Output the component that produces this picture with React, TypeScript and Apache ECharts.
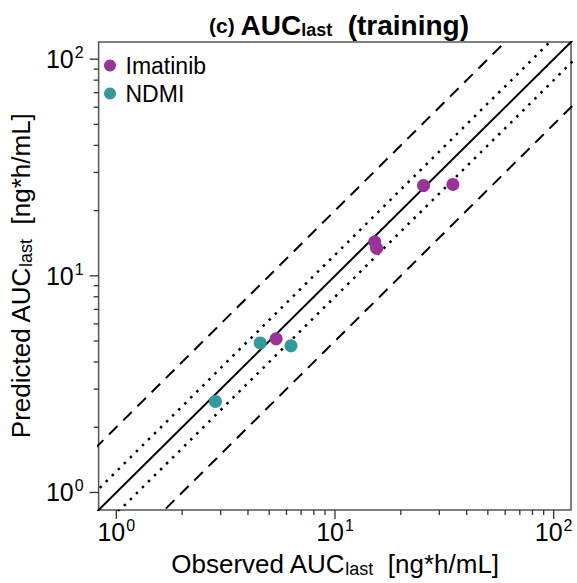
import React, { useEffect, useRef } from 'react';
import * as echarts from 'echarts';

// Axis range (both axes, log10)
const axisMin = 0.83;
const axisMax = 120;

// Observed vs predicted AUC_last
const imatinibObserved = [5.38, 15.2, 15.5, 25.4, 34.6];
const imatinibPredicted = [5.12, 14.35, 13.4, 26.1, 26.4];
const ndmiObserved = [2.84, 4.55, 6.29];
const ndmiPredicted = [2.63, 4.9, 4.75];

// Reference lines (fold ratios)
const identityRatio = [1];
const dottedRatios = [1.25, 0.8];
const dashedRatios = [2, 0.5];

// Tick values
const majorTicks = [1, 10, 100];
const minorTicks = [2, 3, 4, 5, 6, 7, 8, 9, 20, 30, 40, 50, 60, 70, 80, 90];

const FONT = '"Liberation Sans", Arial, sans-serif';

function powerLabel(v: number): string {
  const e = Math.log10(v);
  const r = Math.round(e);
  if (Math.abs(e - r) > 1e-6) return '';
  return `{b|10}{s|${r}}`;
}

const labelRich = {
  b: { fontSize: 25, fontFamily: FONT, color: '#000' },
  s: { fontSize: 16, fontFamily: FONT, color: '#000', padding: [0, 0, 13, 1] },
};

function refLine(ratio: number, type: any, width: number) {
  return {
    type: 'line',
    silent: true,
    symbol: 'none',
    z: 2,
    data: [
      [axisMin / 4, (axisMin / 4) * ratio],
      [axisMax * 4, axisMax * 4 * ratio],
    ],
    lineStyle: { color: '#000', width, type },
  };
}

function tickSeries(values: number[], len: number) {
  return {
    type: 'custom',
    silent: true,
    clip: false,
    z: 5,
    data: values.map((v) => [v, v]),
    renderItem: (params: any, api: any) => {
      const v = api.value(0);
      const cs = params.coordSys;
      const px = api.coord([v, axisMin])[0];
      const py = api.coord([axisMin, v])[1];
      const bottom = cs.y + cs.height;
      const left = cs.x;
      const style = { stroke: '#333', lineWidth: 1.3 };
      return {
        type: 'group',
        children: [
          { type: 'line', shape: { x1: px, y1: bottom, x2: px, y2: bottom + len }, style },
          { type: 'line', shape: { x1: left, y1: py, x2: left - len, y2: py }, style },
        ],
      };
    },
  };
}

export default function App() {
  const ref = useRef<HTMLDivElement>(null);
  useEffect(() => {
    if (!ref.current) return;
    const chart = echarts.init(ref.current, undefined, { renderer: 'svg' });
    const nameRich = {
      n: { fontSize: 26, fontFamily: FONT, color: '#000' },
      sub: { fontSize: 18, fontFamily: FONT, color: '#000', padding: [10, 0, 0, 0] },
    };
    const axisCommon = {
      type: 'log',
      logBase: 10,
      min: axisMin,
      max: axisMax,
      nameLocation: 'middle',
      axisLine: { show: false },
      axisTick: { show: false },
      splitLine: { show: false },
      minorTick: { show: false },
      axisLabel: { formatter: powerLabel, rich: labelRich, fontFamily: FONT },
      nameTextStyle: { fontFamily: FONT, fontSize: 26, color: '#000', rich: nameRich },
    };
    const series: any[] = [];
    identityRatio.forEach((r) => series.push(refLine(r, 'solid', 2)));
    dottedRatios.forEach((r) => series.push(refLine(r, [2.5, 6], 2.5)));
    dashedRatios.forEach((r) => series.push(refLine(r, [12, 8], 2)));
    series.push(tickSeries(majorTicks, 9));
    series.push(tickSeries(minorTicks, 5));
    series.push({
      name: 'Imatinib',
      type: 'scatter',
      symbolSize: 13,
      z: 10,
      itemStyle: { color: '#993399', opacity: 1 },
      data: imatinibObserved.map((x, i) => [x, imatinibPredicted[i]]),
    });
    series.push({
      name: 'NDMI',
      type: 'scatter',
      symbolSize: 13,
      z: 10,
      itemStyle: { color: '#339999', opacity: 1 },
      data: ndmiObserved.map((x, i) => [x, ndmiPredicted[i]]),
    });

    chart.setOption({
      animation: false,
      backgroundColor: '#fff',
      title: {
        text: '{c|(c) }{a|AUC}{s|last}{a|  (training)}',
        left: 334,
        top: 6,
        textAlign: 'center',
        textStyle: {
          rich: {
            c: { fontSize: 21, fontWeight: 'bold', fontFamily: FONT, color: '#000' },
            a: { fontSize: 28, fontWeight: 'bold', fontFamily: FONT, color: '#000' },
            s: { fontSize: 18, fontFamily: FONT, color: '#000', padding: [10, 0, 0, 0] },
          },
        },
      },
      legend: {
        data: ['Imatinib', 'NDMI'],
        orient: 'vertical',
        left: 99,
        top: 49,
        icon: 'circle',
        itemWidth: 21,
        itemHeight: 12,
        itemGap: 5,
        textStyle: { fontSize: 23, fontFamily: FONT, color: '#000' },
      },
      grid: {
        left: 92,
        top: 42,
        right: 6,
        bottom: 70,
        show: true,
        borderColor: '#555',
        borderWidth: 1.5,
        backgroundColor: 'transparent',
      },
      xAxis: {
        ...axisCommon,
        name: '{n|Observed AUC}{sub|last}{n|  [ng*h/mL]}',
        nameGap: 40,
        axisLabel: { ...axisCommon.axisLabel, margin: 7 },
      },
      yAxis: {
        ...axisCommon,
        name: '{n|Predicted AUC}{sub|last}{n|  [ng*h/mL]}',
        nameRotate: 90,
        nameGap: 62,
        axisLabel: { ...axisCommon.axisLabel, margin: 15 },
      },
      series,
    });
    return () => chart.dispose();
  }, []);
  return (
    <div
      ref={ref}
      style={{ position: 'fixed', left: 0, top: 0, width: 577, height: 583 }}
    />
  );
}
